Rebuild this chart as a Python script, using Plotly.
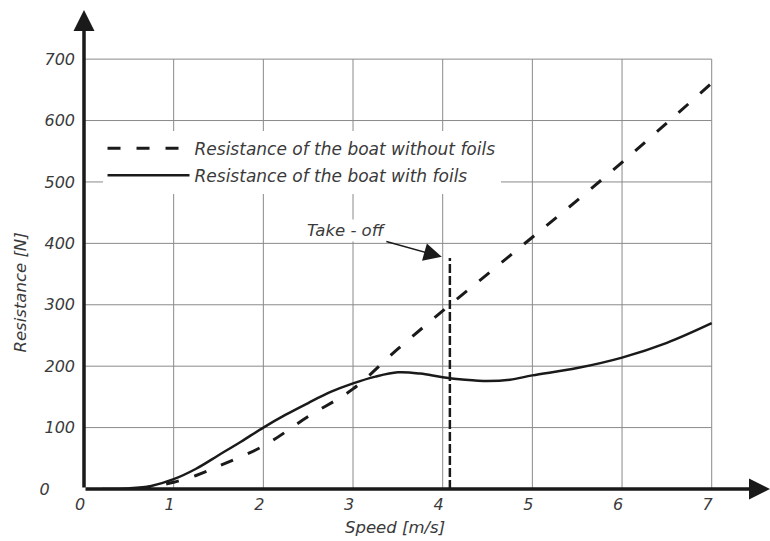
import plotly.graph_objects as go

# ---- data ----
speed_no_foils = [0.6, 0.8, 1.0, 1.25, 1.5, 2.0, 2.5, 3.0, 3.5, 4.0, 4.5, 5.0, 5.5, 6.0, 6.5, 7.0]
res_no_foils = [0, 5, 11, 22, 37, 70, 118, 163, 228, 290, 350, 410, 470, 532, 596, 661]

speed_foils = [0.2, 0.5, 0.75, 1.0, 1.25, 1.5, 1.75, 2.0, 2.25, 2.5, 2.75, 3.0, 3.25, 3.5,
               3.75, 4.0, 4.25, 4.5, 4.75, 5.0, 5.5, 6.0, 6.5, 7.0]
res_foils = [0, 1, 5, 16, 33, 55, 77, 100, 121, 140, 158, 172, 183, 190,
             188, 182, 178, 176, 178, 185, 197, 214, 238, 270]

takeoff_speed = 4.08
takeoff_top = 376

x_ticks = [0, 1, 2, 3, 4, 5, 6, 7]
y_ticks = [0, 100, 200, 300, 400, 500, 600, 700]
x_max, y_max = 7.65, 780

FONT = "DejaVu Sans"
TXT = "#3a3a3a"

fig = go.Figure()

# grid (only up to 7 / 700)
gx, gy = [], []
for xv in x_ticks[1:]:
    gx += [xv, xv, None]
    gy += [0, y_ticks[-1], None]
for yv in y_ticks[1:]:
    gx += [0, x_ticks[-1], None]
    gy += [yv, yv, None]
fig.add_trace(go.Scatter(x=gx, y=gy, mode="lines", line=dict(color="#8a8a8a", width=1),
                         showlegend=False, hoverinfo="skip"))

fig.add_trace(go.Scatter(x=speed_no_foils, y=res_no_foils, mode="lines",
                         name="Resistance of the boat without foils",
                         line=dict(color="#1a1a1a", width=3, dash="13px,16px", shape="spline"),
                         legendgroup="a"))
fig.add_trace(go.Scatter(x=speed_foils, y=res_foils, mode="lines",
                         name="Resistance of the boat with foils",
                         line=dict(color="#1a1a1a", width=2.5, shape="spline", smoothing=1),
                         legendgroup="b"))
fig.add_trace(go.Scatter(x=[takeoff_speed, takeoff_speed], y=[0, takeoff_top], mode="lines",
                         line=dict(color="#1a1a1a", width=2.5, dash="9px,3px"),
                         showlegend=False, hoverinfo="skip"))

anns = []
# axis arrows
anns.append(dict(x=0, y=y_max, ax=0, ay=0, xref="x", yref="y", axref="x", ayref="y",
                 text="", showarrow=True, arrowhead=2, arrowsize=1.2, arrowwidth=3.5,
                 arrowcolor="#1a1a1a", standoff=0, startstandoff=0))
anns.append(dict(x=x_max, y=0, ax=0, ay=0, xref="x", yref="y", axref="x", ayref="y",
                 text="", showarrow=True, arrowhead=2, arrowsize=1.2, arrowwidth=3.5,
                 arrowcolor="#1a1a1a", standoff=0, startstandoff=0))
# take-off label
anns.append(dict(x=3.99, y=378, ax=2.93, ay=421, xref="x", yref="y", axref="x", ayref="y",
                 text="Take - off", showarrow=True, arrowhead=2, arrowsize=2.4, arrowwidth=1.5,
                 arrowcolor="#1a1a1a", bgcolor="white", borderpad=1,
                 font=dict(family=FONT, size=16.5, color=TXT, style="italic")))
# axis titles
anns.append(dict(x=3.47, y=-0.081, xref="x", yref="paper", text="Speed [m/s]", showarrow=False,
                 xanchor="center", yanchor="middle",
                 font=dict(family=FONT, size=16.5, color=TXT, style="italic")))
anns.append(dict(x=-0.092, y=0.41, xref="paper", yref="paper", text="Resistance [N]",
                 showarrow=False, textangle=-90, xanchor="center", yanchor="middle",
                 font=dict(family=FONT, size=16.5, color=TXT, style="italic")))

y_text = [str(v) for v in y_ticks]
y_text[0] = "0" + "\u00a0" * 5

fig.update_layout(
    width=770, height=541,
    margin=dict(l=84, r=0, t=10, b=52),
    plot_bgcolor="white", paper_bgcolor="white",
    annotations=anns,
    showlegend=True,
    legend=dict(x=0.027, y=0.748, xanchor="left", yanchor="top", bgcolor="white",
                borderwidth=0, itemwidth=82, traceorder="grouped", tracegroupgap=2,
                font=dict(family=FONT, size=17, color=TXT, style="italic")),
    xaxis=dict(range=[0, x_max], showgrid=False, zeroline=False, showline=False,
               tickvals=x_ticks, ticks="", ticklabelshift=-4, ticklabelstandoff=4,
               tickfont=dict(family=FONT, size=16, color=TXT, style="italic")),
    yaxis=dict(range=[0, y_max], showgrid=False, zeroline=False, showline=False,
               tickvals=y_ticks, ticktext=y_text, ticks="", ticklabelstandoff=8,
               tickfont=dict(family=FONT, size=16, color=TXT, style="italic")),
)

fig.write_html("out.html")
